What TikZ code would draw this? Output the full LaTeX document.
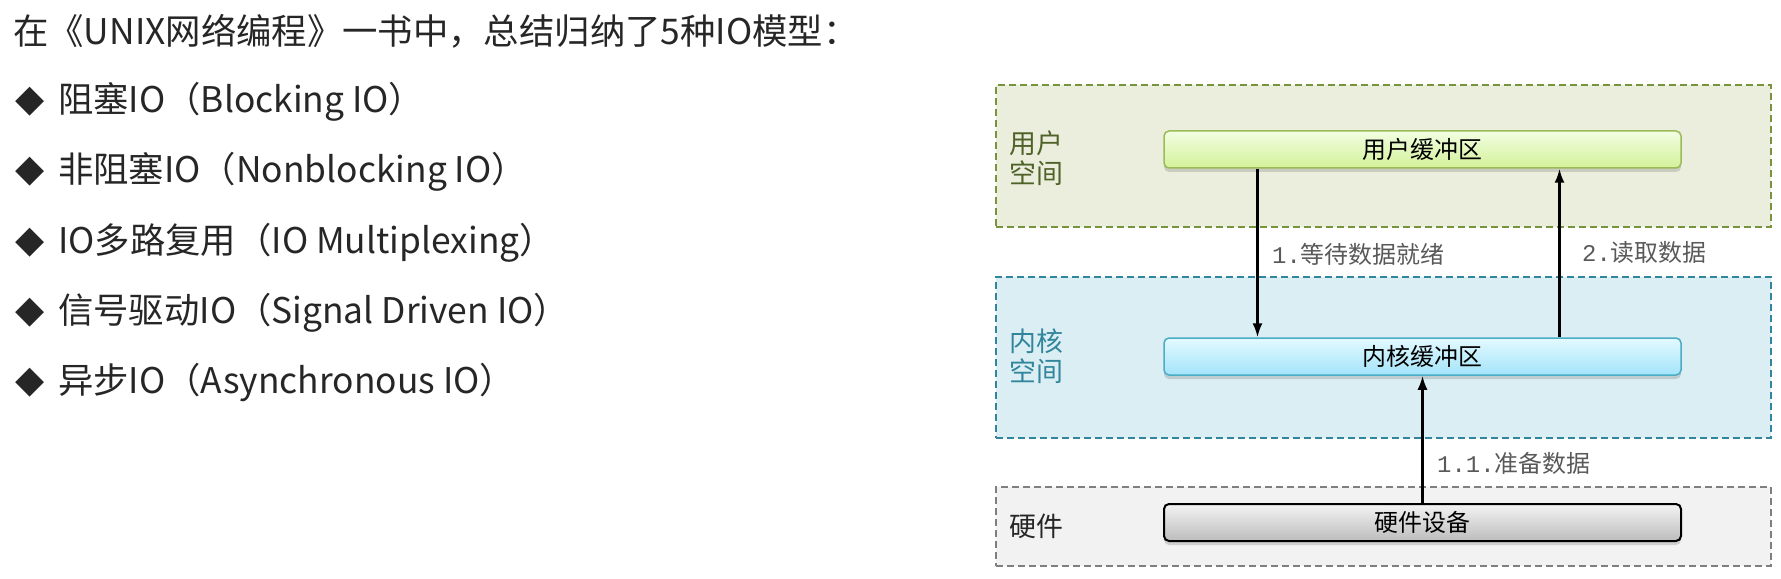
\documentclass[tikz,border=0pt]{standalone}
\usepackage{fontspec}
\setmainfont{Noto Sans CJK SC}
\newfontfamily\dejavu{DejaVu Sans}
\newfontfamily\monofont{Liberation Mono}
\usetikzlibrary{shadows,arrows.meta}

\definecolor{gfill}{HTML}{EBEEDD}
\definecolor{gline}{HTML}{77933C}
\definecolor{gtext}{HTML}{4F6228}
\definecolor{gtop}{HTML}{F2FEE2}
\definecolor{gbot}{HTML}{D3F199}
\definecolor{gbox}{HTML}{9BBB59}
\definecolor{bfill}{HTML}{DAEEF3}
\definecolor{bline}{HTML}{31859C}
\definecolor{btext}{HTML}{31859C}
\definecolor{btop}{HTML}{E4F9FF}
\definecolor{bbot}{HTML}{A3E4FA}
\definecolor{bbox}{HTML}{4BACC6}
\definecolor{hfill}{HTML}{F2F2F2}
\definecolor{hline}{HTML}{7F7F7F}
\definecolor{htop}{HTML}{F4F4F4}
\definecolor{hbot}{HTML}{BCBCBC}
\definecolor{lbl}{HTML}{595959}
\definecolor{txt}{HTML}{262626}

\newcommand\bul{\makebox[43bp][l]{\raisebox{1bp}{\dejavu\fontsize{38}{40}\selectfont ◆}}}

\tikzset{
  region/.style={draw, line width=1.8bp, dash pattern=on 7bp off 4bp,
    minimum width=775bp, anchor=north west, inner sep=0},
  buf/.style={rounded corners=5bp, minimum width=517bp, minimum height=37bp,
    line width=1.5bp, text=black, font=\fontsize{24}{26}\selectfont,
    drop shadow={opacity=0.3, shadow xshift=0bp, shadow yshift=-4bp}},
  reglbl/.style={anchor=west, align=left, inner sep=0, font=\fontsize{27}{30}\selectfont},
  mainline/.style={anchor=base west, inner sep=0, text=txt, font=\fontsize{35.5}{40}\selectfont},
  arr/.style={line width=2.2bp, -{Latex[length=14bp,width=10bp]}},
  elbl/.style={anchor=west, inner sep=0, text=lbl, font=\fontsize{24}{26}\selectfont}
}

\begin{document}
\begin{tikzpicture}[x=1bp,y=-1bp]
\useasboundingbox (0,0) rectangle (1781,579);

% left text
\node[mainline] (title) at (13,45) {在《UNIX网络编程》一书中，总结归纳了5种IO模型：};
\node[mainline] (b1) at (15,113) {\bul 阻塞IO（Blocking IO）};
\node[mainline] (b2) at (15,183) {\bul 非阻塞IO（Nonblocking IO）};
\node[mainline] (b3) at (15,254) {\bul IO多路复用（IO Multiplexing）};
\node[mainline] (b4) at (15,323) {\bul 信号驱动IO（Signal Driven IO）};
\node[mainline] (b5) at (15,393) {\bul 异步IO（Asynchronous IO）};

% regions
\node[region, fill=gfill, draw=gline, minimum height=142bp] (ureg) at (995,84) {};
\node[region, fill=bfill, draw=bline, minimum height=161bp] (kreg) at (995,276) {};
\node[region, fill=hfill, draw=hline, minimum height=79bp] (hreg) at (995,486) {};

\node[reglbl, text=gtext] (ulbl) at (1009,158) {用户\\空间};
\node[reglbl, text=btext] (klbl) at (1009,356) {内核\\空间};
\node[reglbl, text=txt] (hlbl) at (1009,526) {硬件};

% buffers
\node[buf, draw=gbox, top color=gtop, bottom color=gbot] (ubuf) at (1422.5,149.5) {用户缓冲区};
\node[buf, draw=bbox, top color=btop, bottom color=bbot] (kbuf) at (1422.5,356.5) {内核缓冲区};
\node[buf, draw=black, line width=2bp, top color=htop, bottom color=hbot] (hbuf) at (1422.5,522.5) {硬件设备};

% arrows
\draw[arr] ([xshift=-165bp]ubuf.south) -- ([xshift=-165bp]kbuf.north);
\draw[arr] ([xshift=137bp]kbuf.north) -- ([xshift=137bp]ubuf.south);
\draw[arr] (hbuf.north) -- (kbuf.south);

% labels
\node[elbl] (l1) at (1272,254) {{\monofont 1.}等待数据就绪};
\node[elbl] (l2) at (1582,252) {{\monofont 2.}读取数据};
\node[elbl] (l3) at (1437,463) {{\monofont 1.1.}准备数据};
\end{tikzpicture}
\end{document}
